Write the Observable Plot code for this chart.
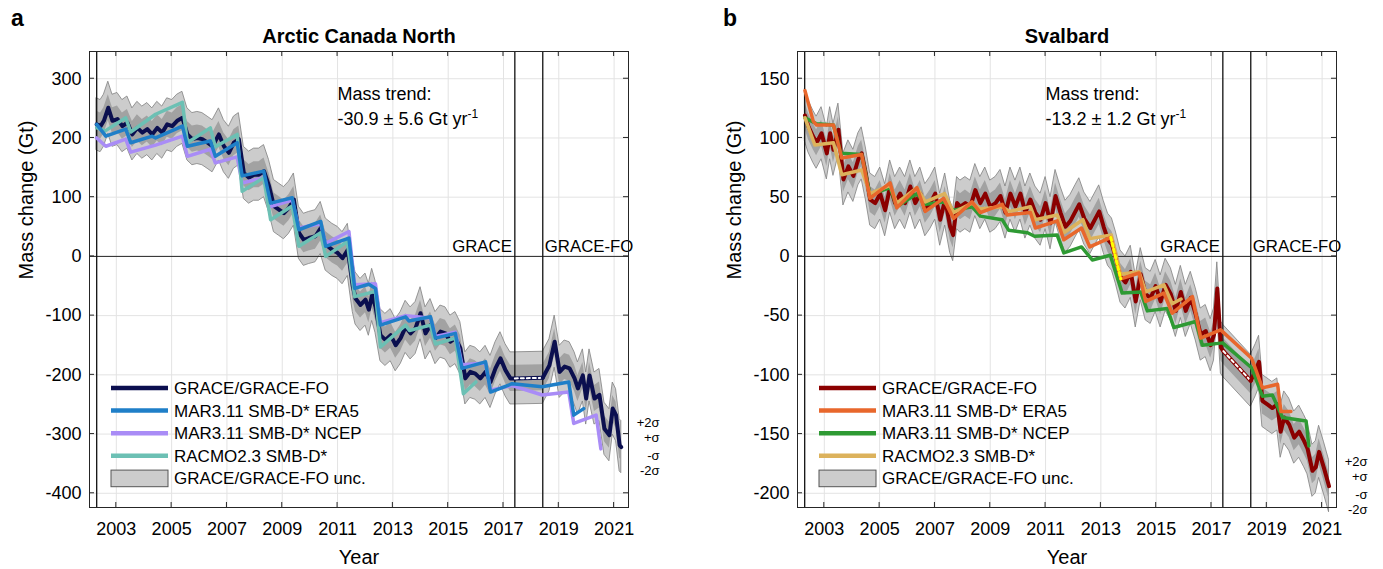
<!DOCTYPE html>
<html><head><meta charset="utf-8">
<script src="https://cdn.jsdelivr.net/npm/d3@7"></script>
<script src="https://cdn.jsdelivr.net/npm/@observablehq/plot@0.6"></script>
<style>
body{margin:0;background:#fff;}
#wrap{position:relative;width:1383px;height:569px;overflow:hidden;background:#fff;}
#pa{position:absolute;left:0;top:0}
#pb{position:absolute;left:708px;top:0}
</style></head><body><div id="wrap"><div id="pa"></div><div id="pb"></div></div>
<script>
const FONT = "Liberation Sans, Arial, Helvetica, sans-serif";

// ---------- shared ----------
const xTicks = [2003, 2005, 2007, 2009, 2011, 2013, 2015, 2017, 2019, 2021];
const missionLines = [2002.29, 2017.41, 2018.42];
const legendLabels = ["GRACE/GRACE-FO", "MAR3.11 SMB-D* ERA5", "MAR3.11 SMB-D* NCEP", "RACMO2.3 SMB-D*", "GRACE/GRACE-FO unc."];
const sigmaLabels = ["+2σ", "+σ", "-σ", "-2σ"];

// ---------- panel a: Arctic Canada North ----------
const acnYTicks = [300, 200, 100, 0, -100, -200, -300, -400];
const acnSigma = 22;
const acnGrace = [[2002.29,223],[2002.43,220],[2002.55,229],[2002.71,251],[2002.86,229],[2003.04,232],[2003.22,220],[2003.40,226],[2003.58,206],[2003.76,217],[2003.94,209],[2004.12,215],[2004.30,206],[2004.48,217],[2004.66,209],[2004.84,223],[2005.02,220],[2005.20,229],[2005.39,234],[2005.57,206],[2005.75,198],[2005.93,200],[2006.11,198],[2006.30,192],[2006.48,186],[2006.71,206],[2006.89,186],[2007.07,175],[2007.25,192],[2007.43,198],[2007.61,141],[2007.80,133],[2007.98,138],[2008.16,138],[2008.34,144],[2008.52,119],[2008.70,85],[2008.88,79],[2009.06,73],[2009.24,82],[2009.42,96],[2009.60,40],[2009.78,28],[2009.96,31],[2010.20,34],[2010.39,48],[2010.57,20],[2010.81,11],[2011.00,6],[2011.18,-3],[2011.37,11],[2011.55,-50],[2011.65,-71],[2011.83,-82],[2012.01,-73],[2012.13,-90],[2012.25,-65],[2012.37,-85],[2012.55,-133],[2012.73,-141],[2012.92,-133],[2013.10,-150],[2013.28,-138],[2013.46,-119],[2013.64,-130],[2013.82,-121],[2014.00,-96],[2014.18,-130],[2014.36,-116],[2014.54,-138],[2014.72,-127],[2014.90,-130],[2015.08,-144],[2015.26,-138],[2015.44,-155],[2015.62,-206],[2015.80,-195],[2015.98,-198],[2016.16,-206],[2016.35,-195],[2016.53,-212],[2016.71,-189],[2016.89,-172],[2017.07,-192],[2017.25,-206],[2017.41,-206]];
const acnFo = [[2018.42,-205],[2018.66,-184],[2018.85,-144],[2019.03,-195],[2019.21,-186],[2019.39,-189],[2019.57,-206],[2019.69,-223],[2019.87,-201],[2019.99,-240],[2020.11,-201],[2020.29,-240],[2020.47,-234],[2020.65,-291],[2020.83,-302],[2020.95,-257],[2021.07,-268],[2021.20,-319],[2021.26,-322]];
const acnEra5 = [[2002.29,223],[2002.62,203],[2003.34,215],[2003.52,192],[2004.30,203],[2004.42,200],[2005.39,220],[2005.57,186],[2006.40,195],[2006.58,169],[2007.37,192],[2007.55,136],[2008.33,144],[2008.58,90],[2009.36,99],[2009.60,45],[2010.39,59],[2010.57,17],[2011.41,31],[2011.62,-54],[2012.13,-47],[2012.37,-54],[2012.55,-116],[2013.46,-102],[2013.58,-109],[2014.36,-102],[2014.54,-138],[2015.26,-130],[2015.50,-189],[2016.35,-178],[2016.53,-229],[2017.31,-215],[2018.40,-220],[2019.36,-212],[2019.54,-268],[2019.90,-257]];
const acnNcep = [[2002.29,200],[2002.62,186],[2003.34,198],[2003.52,176],[2004.42,188],[2005.39,203],[2005.57,169],[2006.40,181],[2006.58,158],[2007.37,168],[2007.55,124],[2008.33,133],[2008.58,84],[2009.36,95],[2009.60,48],[2010.39,55],[2010.57,22],[2011.41,42],[2011.62,-48],[2012.37,-46],[2012.55,-112],[2013.46,-100],[2014.36,-104],[2014.54,-135],[2015.26,-128],[2015.50,-183],[2016.35,-180],[2016.53,-226],[2017.31,-218],[2018.40,-234],[2019.36,-229],[2019.54,-282],[2020.35,-268],[2020.52,-325]];
const acnRacmo = [[2002.29,217],[2002.60,212],[2003.34,234],[2003.52,210],[2004.42,240],[2005.39,260],[2005.57,192],[2006.40,217],[2006.58,185],[2007.37,206],[2007.55,110],[2008.33,133],[2008.58,62],[2009.36,85],[2009.60,17],[2010.39,40],[2010.57,0],[2011.35,25],[2011.62,-68],[2012.37,-59],[2012.55,-153],[2013.46,-116],[2013.60,-125],[2014.36,-116],[2014.54,-148],[2015.26,-138],[2015.55,-232],[2016.00,-212]];

// ---------- panel b: Svalbard ----------
const svbYTicks = [150, 100, 50, 0, -50, -100, -150, -200];
const svbSigma = 11;
const svbGrace = [[2002.30,119],[2002.42,110],[2002.60,101],[2002.72,96],[2002.90,104],[2003.09,87],[2003.21,104],[2003.33,90],[2003.51,107],[2003.69,65],[2003.87,76],[2004.05,68],[2004.23,82],[2004.35,87],[2004.50,70],[2004.66,48],[2004.84,45],[2005.02,53],[2005.20,39],[2005.38,59],[2005.56,45],[2005.74,53],[2005.92,45],[2006.11,59],[2006.29,45],[2006.47,53],[2006.65,39],[2006.83,45],[2007.01,53],[2007.19,31],[2007.37,48],[2007.55,25],[2007.66,18],[2007.80,45],[2007.92,42],[2008.10,45],[2008.28,42],[2008.46,56],[2008.64,45],[2008.82,53],[2009.00,42],[2009.19,45],[2009.37,51],[2009.55,37],[2009.73,53],[2009.91,42],[2010.09,53],[2010.27,37],[2010.45,48],[2010.63,37],[2010.82,31],[2011.00,45],[2011.18,28],[2011.36,51],[2011.54,37],[2011.72,25],[2011.90,30],[2012.08,38],[2012.22,44],[2012.40,32],[2012.62,24],[2012.94,38],[2013.10,25],[2013.26,14],[2013.40,10],[2013.54,-1],[2013.71,-17],[2013.89,-22],[2014.08,-13],[2014.26,-38],[2014.44,-15],[2014.62,-32],[2014.80,-35],[2014.98,-25],[2015.16,-38],[2015.34,-24],[2015.53,-32],[2015.71,-46],[2015.89,-30],[2016.07,-46],[2016.25,-35],[2016.43,-49],[2016.61,-66],[2016.79,-63],[2016.97,-75],[2017.09,-66],[2017.21,-27],[2017.34,-77],[2017.43,-80]];
const svbFo = [[2018.42,-105],[2018.60,-96],[2018.72,-89],[2018.84,-122],[2019.02,-125],[2019.20,-128],[2019.38,-125],[2019.50,-148],[2019.63,-136],[2019.81,-142],[2019.99,-153],[2020.17,-148],[2020.35,-156],[2020.47,-162],[2020.65,-181],[2020.77,-178],[2020.89,-165],[2021.07,-179],[2021.25,-194]];
const svbEra5 = [[2002.30,140],[2002.60,114],[2002.72,111],[2003.33,111],[2003.63,83],[2004.35,86],[2004.65,49],[2005.38,62],[2005.62,41],[2006.35,58],[2006.65,38],[2007.31,49],[2007.67,32],[2008.34,46],[2008.64,37],[2009.43,44],[2009.61,35],[2010.45,37],[2010.63,24],[2011.42,30],[2011.66,14],[2012.30,24],[2012.60,8],[2013.36,16],[2013.72,-19],[2014.38,-14],[2014.62,-38],[2015.28,-31],[2015.58,-48],[2016.31,-34],[2016.61,-69],[2017.33,-62],[2018.45,-86],[2018.84,-111],[2019.39,-108],[2019.51,-131],[2019.87,-131]];
const svbNcep = [[2002.30,117],[2002.72,112],[2003.33,111],[2003.60,87],[2004.35,86],[2004.65,52],[2005.38,58],[2005.62,42],[2006.35,53],[2006.65,44],[2007.31,46],[2007.67,39],[2008.34,42],[2008.64,34],[2009.43,31],[2009.67,22],[2010.35,20],[2010.60,17],[2011.42,18],[2011.66,3],[2012.30,8],[2012.69,-3],[2013.34,1],[2013.77,-31],[2014.44,-30],[2014.68,-46],[2015.40,-44],[2015.64,-60],[2016.43,-55],[2016.67,-75],[2017.40,-73],[2018.45,-94],[2018.84,-118],[2019.20,-117],[2019.57,-136],[2020.42,-139],[2020.52,-160]];
const svbRacmo = [[2002.30,117],[2002.66,94],[2003.33,96],[2003.63,69],[2004.35,73],[2004.65,53],[2005.38,60],[2005.62,45],[2006.35,58],[2006.65,46],[2007.35,53],[2007.67,37],[2008.34,45],[2008.64,40],[2009.43,42],[2009.70,38],[2010.45,42],[2010.63,31],[2011.42,35],[2011.66,20],[2012.35,31],[2012.60,15],[2013.38,18],[2013.71,-15],[2014.38,-13],[2014.62,-30],[2015.28,-24],[2015.58,-40],[2015.90,-36]];
const svbJump = [[2013.36,16],[2013.72,-19]];

const rows = a => a.map(([year, mass]) => ({year, mass}));
const sigmaDy = [-24, -9, 9, 24];

function panel(cfg) {
  const W = cfg.width, L = 89, R = 628, T = 51, B = 507;
  const grace = rows(cfg.grace), fo = rows(cfg.fo);
  const all = grace.concat(fo);
  const gap = [grace[grace.length - 1], fo[0]];
  const end = fo[fo.length - 1];
  const s = cfg.sigma;
  const c = cfg.colors;
  const marks = [
    Plot.gridX(xTicks, {stroke: "#e3e3e3", strokeOpacity: 1}),
    Plot.gridY(cfg.yTicks, {stroke: "#e3e3e3", strokeOpacity: 1}),
    Plot.areaY(all, {x: "year", y1: d => d.mass - 2 * s, y2: d => d.mass + 2 * s, fill: "#cccccc", stroke: "#808080", strokeWidth: 0.8}),
    Plot.areaY(all, {x: "year", y1: d => d.mass - s, y2: d => d.mass + s, fill: "#a2a2a2"}),
    Plot.ruleY([0], {stroke: "#262626", strokeWidth: 1}),
    Plot.ruleX(missionLines, {stroke: "#111", strokeWidth: 1.3}),
    Plot.line(grace, {x: "year", y: "mass", stroke: c[0], strokeWidth: 4}),
    Plot.line(gap, {x: "year", y: "mass", stroke: c[0], strokeWidth: 4}),
    Plot.line(gap, {x: "year", y: "mass", stroke: "#fff", strokeWidth: 2, strokeDasharray: "3,3"}),
    Plot.line(fo, {x: "year", y: "mass", stroke: c[0], strokeWidth: 4}),
    Plot.line(rows(cfg.ncep), {x: "year", y: "mass", stroke: c[2], strokeWidth: 3.5}),
    Plot.line(rows(cfg.racmo), {x: "year", y: "mass", stroke: c[3], strokeWidth: 3.5}),
    Plot.line(rows(cfg.era5), {x: "year", y: "mass", stroke: c[1], strokeWidth: 3.5})
  ];
  if (cfg.jump) marks.push(Plot.line(rows(cfg.jump), {x: "year", y: "mass", stroke: "#ffff00", strokeWidth: 3, strokeDasharray: "3,3"}));
  sigmaLabels.forEach((lab, i) => marks.push(
    Plot.text([end], {y: "mass", text: () => lab, frameAnchor: "right", dx: 31, dy: sigmaDy[i], textAnchor: "end", lineAnchor: "middle", fontSize: 13})
  ));
  marks.push(
    Plot.axisX(xTicks, {tickFormat: d => String(d), tickSize: 0, tickPadding: 15, fontSize: 18, label: null}),
    Plot.axisY(cfg.yTicks, {tickFormat: d => String(d), tickSize: 0, tickPadding: 8, fontSize: 18, label: null}),
    Plot.text([{year: missionLines[1], t: "GRACE"}], {x: "year", y: () => 0, text: "t", textAnchor: "end", lineAnchor: "middle", dx: -3, dy: -10, fontSize: 16.8}),
    Plot.text([{year: missionLines[2], t: "GRACE-FO"}], {x: "year", y: () => 0, text: "t", textAnchor: "start", lineAnchor: "middle", dx: 2, dy: -10, fontSize: 16.8}),
    Plot.text([cfg.title], {text: d => d, frameAnchor: "top", lineAnchor: "middle", dy: -15, fontSize: 20, fontWeight: "bold"}),
    Plot.text([cfg.letter], {text: d => d, frameAnchor: "top-left", lineAnchor: "middle", dx: cfg.letterDx, dy: -33, fontSize: 23, fontWeight: "bold", textAnchor: "middle"}),
    Plot.text(["Year"], {text: d => d, frameAnchor: "bottom", lineAnchor: "middle", dy: 50, fontSize: 20}),
    Plot.text(["Mass change (Gt)"], {text: d => d, frameAnchor: "left", lineAnchor: "middle", dx: -63, rotate: -90, fontSize: 20}),
    Plot.text(["Mass trend:"], {text: d => d, frameAnchor: "top-left", lineAnchor: "middle", dx: 248, dy: 43, textAnchor: "start", fontSize: 18}),
    Plot.text([cfg.trend], {text: d => d, frameAnchor: "top-left", lineAnchor: "middle", dx: 248, dy: 67.5, textAnchor: "start", fontSize: 18}),
    Plot.frame({stroke: "#262626", strokeWidth: 1})
  );
  const svg = Plot.plot({
    width: W, height: 569,
    marginLeft: L, marginRight: W - R, marginTop: T, marginBottom: 569 - B,
    x: {domain: [2002.03, 2021.52]},
    y: {domain: cfg.yDomain},
    style: {fontFamily: FONT, fontSize: "18px", color: "#000", background: "#fff"},
    marks
  });
  const root = d3.select(svg);
  const sx = svg.scale("x"), sy = svg.scale("y");
  // superscript on the trend text
  root.selectAll("text").filter(function () { return this.textContent === cfg.trend; })
    .append("tspan").attr("dy", "-0.55em").attr("font-size", "12px").text("-1");
  // inward ticks on all four sides
  const tg = root.append("g").attr("stroke", "#262626").attr("stroke-width", 1);
  xTicks.forEach(v => {
    const x = sx.apply(v);
    tg.append("line").attr("x1", x).attr("x2", x).attr("y1", B).attr("y2", B - 5);
    tg.append("line").attr("x1", x).attr("x2", x).attr("y1", T).attr("y2", T + 5);
  });
  cfg.yTicks.forEach(v => {
    const y = sy.apply(v);
    tg.append("line").attr("x1", L).attr("x2", L + 5).attr("y1", y).attr("y2", y);
    tg.append("line").attr("x1", R).attr("x2", R - 5).attr("y1", y).attr("y2", y);
  });
  // legend
  const lg = root.append("g").attr("font-family", FONT).attr("font-size", 17).attr("text-anchor", "start");
  legendLabels.forEach((lab, i) => {
    const y = T + 337 + i * 22.6;
    if (i < 4) {
      lg.append("line").attr("x1", L + 22).attr("x2", L + 79).attr("y1", y).attr("y2", y)
        .attr("stroke", c[i]).attr("stroke-width", 4.5);
    } else {
      lg.append("rect").attr("x", L + 22).attr("y", y - 8.3).attr("width", 57).attr("height", 16.6)
        .attr("fill", "#cccccc").attr("stroke", "#555").attr("stroke-width", 1);
    }
    lg.append("text").attr("x", L + 85).attr("y", y).attr("dy", "0.35em").attr("fill", "#000").attr("text-anchor", "start").text(lab);
  });
  return svg;
}

document.getElementById("pa").appendChild(panel({
  width: 708, title: "Arctic Canada North", letter: "a", letterDx: -72,
  yDomain: [-424, 346], yTicks: acnYTicks, sigma: acnSigma,
  grace: acnGrace, fo: acnFo, era5: acnEra5, ncep: acnNcep, racmo: acnRacmo,
  colors: ["#0b0f4f", "#1f7fc8", "#a98cf6", "#6cc0b4"],
  trend: "-30.9 ± 5.6 Gt yr"
}));
document.getElementById("pb").appendChild(panel({
  width: 675, title: "Svalbard", letter: "b", letterDx: -67.5,
  yDomain: [-212, 173], yTicks: svbYTicks, sigma: svbSigma,
  grace: svbGrace, fo: svbFo, era5: svbEra5, ncep: svbNcep, racmo: svbRacmo, jump: svbJump,
  colors: ["#8b0000", "#e8672c", "#2e9a33", "#dcb25c"],
  trend: "-13.2 ± 1.2 Gt yr"
}));
</script></body></html>
